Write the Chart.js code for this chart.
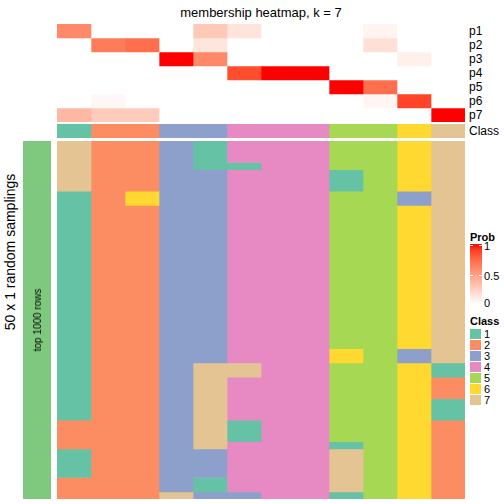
<!DOCTYPE html>
<html>
<head>
<meta charset="utf-8">
<script src="https://cdn.jsdelivr.net/npm/chart.js@4.4.1/dist/chart.umd.min.js"></script>
<style>
  body { margin: 0; width: 504px; height: 504px; position: relative; background: #fff; overflow: hidden;
         font-family: "Liberation Sans", Arial, Helvetica, sans-serif; color: #000; }
  canvas { position: absolute; display: block; }
  .txt { position: absolute; white-space: nowrap; line-height: 1; }
  .c { transform: translate(-50%, -50%); }
  .l { transform: translate(0, -50%); }
  .rot { transform: translate(-50%, -50%) rotate(-90deg); }
  .sw { position: absolute; width: 11px; height: 10px; }
  .tick { position: absolute; width: 3px; height: 1px; background: #fff; }
</style>
</head>
<body>
<div class="txt c" style="left:261px; top:12px; font-size:13px;">membership heatmap, k = 7</div>

<canvas id="prob" width="408" height="98" style="left:57px; top:24px;"></canvas>
<canvas id="cls" width="408" height="14" style="left:57px; top:124px;"></canvas>
<canvas id="main" width="408" height="358" style="left:57px; top:141px;"></canvas>
<canvas id="side" width="28" height="358" style="left:23px; top:141px;"></canvas>

<div class="txt rot" style="left:10px; top:252px; font-size:14px;">50 x 1 random samplings</div>
<div class="txt rot" style="left:38px; top:320px; font-size:10px;">top 1000 rows</div>

<div id="rowLabels"></div>
<div id="legend"></div>

<script>
// columns of the heatmap (12 samples)
const columns = ["s1", "s2", "s3", "s4", "s5", "s6", "s7", "s8", "s9", "s10", "s11", "s12"];

// membership probabilities per class
const probNames = ["p1", "p2", "p3", "p4", "p5", "p6", "p7"];
const p1 = [0.6, 0, 0, 0, 0.28, 0.14, 0, 0, 0, 0.06, 0, 0];
const p2 = [0, 0.66, 0.72, 0, 0.13, 0, 0, 0, 0, 0.16, 0, 0];
const p3 = [0, 0, 0, 1, 0.6, 0, 0, 0, 0, 0, 0.08, 0];
const p4 = [0, 0, 0, 0, 0, 0.85, 1, 1, 0, 0, 0, 0];
const p5 = [0, 0, 0, 0, 0, 0, 0, 0, 1, 0.72, 0, 0];
const p6 = [0, 0.04, 0, 0, 0, 0, 0, 0, 0, 0.05, 0.88, 0];
const p7 = [0.37, 0.27, 0.27, 0, 0, 0, 0, 0, 0, 0, 0, 1];

// consensus class of each column
const classRow = [1, 2, 2, 3, 3, 4, 4, 4, 5, 5, 6, 7];

// class of each column in the 50 random samplings (one string per sampling)
const samplings = [
  "722314445567", "722314445567", "722314445567", "722311445567",
  "722334441567", "722334441567", "722334441567",
  "126334445537", "126334445537",
  "122334445567", "122334445567", "122334445567", "122334445567", "122334445567",
  "122334445567", "122334445567", "122334445567", "122334445567", "122334445567",
  "122334445567", "122334445567", "122334445567", "122334445567", "122334445567",
  "122334445567", "122334445567", "122334445567", "122334445567", "122334445567",
  "122334446537", "122334446537",
  "122377445561", "122377445561",
  "122374445562", "122374445562", "122374445562",
  "122374445561", "122374445561", "122374445561",
  "222371445562", "222371445562", "222371445562",
  "222374441562",
  "122334447562", "122334447562", "122334447562", "122334447562",
  "222314447562", "222314447562",
  "222733441562"
];

const classLabels = ["1", "2", "3", "4", "5", "6", "7"];
const classColors = ["#66C2A5", "#FC8D62", "#8DA0CB", "#E78AC3", "#A6D854", "#FFD92F", "#E5C494"];
const sideColor = "#7FC97F";

// white -> red, interpolated in Lab like colorRamp2
function toLin(v) { v /= 255; return v <= 0.04045 ? v / 12.92 : Math.pow((v + 0.055) / 1.055, 2.4); }
function toSrgb(v) { v = v <= 0.0031308 ? 12.92 * v : 1.055 * Math.pow(v, 1 / 2.4) - 0.055; return Math.round(Math.min(1, Math.max(0, v)) * 255); }
function rgbToLab(rgb) {
  const [r, g, b] = rgb.map(toLin);
  const X = (0.4124 * r + 0.3576 * g + 0.1805 * b) / 0.95047;
  const Y = (0.2126 * r + 0.7152 * g + 0.0722 * b);
  const Z = (0.0193 * r + 0.1192 * g + 0.9505 * b) / 1.08883;
  const f = (t) => t > 0.008856 ? Math.cbrt(t) : 7.787 * t + 16 / 116;
  return [116 * f(Y) - 16, 500 * (f(X) - f(Y)), 200 * (f(Y) - f(Z))];
}
function labToRgb([L, a, b]) {
  const fy = (L + 16) / 116, fx = fy + a / 500, fz = fy - b / 200;
  const inv = (t) => t * t * t > 0.008856 ? t * t * t : (t - 16 / 116) / 7.787;
  const X = inv(fx) * 0.95047, Y = inv(fy), Z = inv(fz) * 1.08883;
  const r = 3.2406 * X - 1.5372 * Y - 0.4986 * Z;
  const g = -0.9689 * X + 1.8758 * Y + 0.0415 * Z;
  const bb = 0.0557 * X - 0.2040 * Y + 1.0570 * Z;
  return "rgb(" + toSrgb(r) + "," + toSrgb(g) + "," + toSrgb(bb) + ")";
}
const labLow = rgbToLab([255, 255, 255]);
const labHigh = rgbToLab([255, 0, 0]);
function probColor(p) {
  return labToRgb(labLow.map((v, i) => v + (labHigh[i] - v) * p));
}
const classColor = (k) => classColors[k - 1];

// one floating bar per run of same-coloured cells in a column
function heatChart(id, cols, grid, colorOf) {
  const nRows = grid.length;
  const datasets = [];
  cols.forEach((col, c) => {
    let start = 0;
    for (let r = 1; r <= nRows; r++) {
      if (r === nRows || colorOf(grid[r][c]) !== colorOf(grid[start][c])) {
        datasets.push({ data: [{ x: col, y: [start, r] }], backgroundColor: colorOf(grid[start][c]) });
        start = r;
      }
    }
  });
  new Chart(document.getElementById(id), {
    type: "bar",
    data: { labels: cols, datasets },
    options: {
      responsive: false,
      animation: false,
      events: [],
      datasets: { bar: { grouped: false, barPercentage: 1, categoryPercentage: 1, borderWidth: 0 } },
      plugins: { legend: { display: false }, tooltip: { enabled: false } },
      layout: { padding: 0 },
      scales: {
        x: { display: false },
        y: { display: false, min: 0, max: nRows, reverse: true }
      }
    }
  });
}

heatChart("prob", columns, [p1, p2, p3, p4, p5, p6, p7], probColor);
heatChart("cls", columns, [classRow], classColor);
heatChart("main", columns, samplings.map((s) => s.split("").map(Number)), classColor);
heatChart("side", ["top 1000 rows"], samplings.map(() => [0]), () => sideColor);

// row names on the right of the top annotation
let html = "";
probNames.concat(["Class"]).forEach((name, i) => {
  const y = i < 7 ? 31 + i * 14 : 131;
  html += `<div class="txt l" style="left:469px; top:${y}px; font-size:12px;">${name}</div>`;
});
document.getElementById("rowLabels").innerHTML = html;

// legends
const stops = [];
for (let i = 0; i <= 10; i++) stops.push(probColor(i / 10) + " " + i * 10 + "%");
let leg = `<div class="txt l" style="left:470px; top:237px; font-size:11px; font-weight:bold;">Prob</div>`;
leg += `<div style="position:absolute; left:470px; top:244px; width:12px; height:60px; background:linear-gradient(to top, ${stops.join(",")});"></div>`;
[[1, 245], [0.5, 274.5]].forEach(([v, y]) => {
  leg += `<div class="tick" style="left:470px; top:${y}px;"></div><div class="tick" style="left:479px; top:${y}px;"></div>`;
  leg += `<div class="txt l" style="left:484px; top:${y + 1}px; font-size:11px;">${v}</div>`;
});
leg += `<div class="txt l" style="left:484px; top:303px; font-size:11px;">0</div>`;
leg += `<div class="txt l" style="left:470px; top:321px; font-size:11px; font-weight:bold;">Class</div>`;
classLabels.forEach((lab, i) => {
  leg += `<div class="sw" style="left:470px; top:${329 + i * 11}px; background:${classColors[i]};"></div>`;
  leg += `<div class="txt l" style="left:484px; top:${334 + i * 11}px; font-size:11px;">${lab}</div>`;
});
document.getElementById("legend").innerHTML = leg;
</script>
</body>
</html>
